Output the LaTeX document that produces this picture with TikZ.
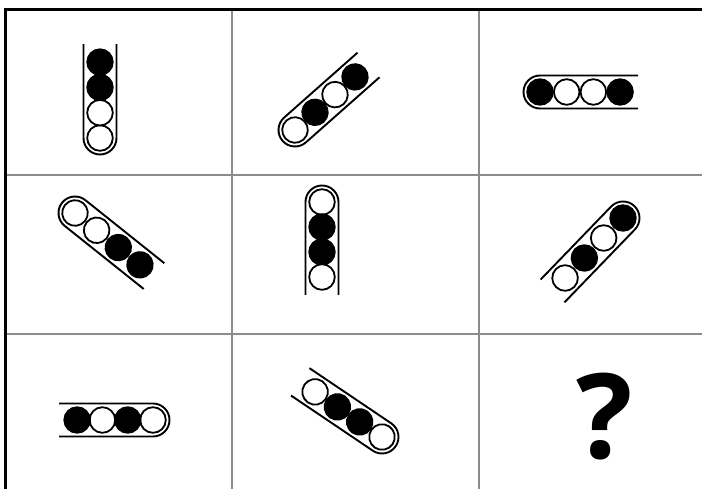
\documentclass[tikz,border=0pt]{standalone}
\usepackage{fontspec}
\newfontfamily\qfont{Open Sans}
\tikzset{
  tubeline/.style={line width=1.9pt, black},
  ball/.style={line width=1.8pt, draw=black},
  gridline/.style={line width=1.2pt, black!45},
  frameline/.style={line width=3pt, black}
}
\newcommand{\balltube}[8]{%
  \begin{scope}[shift={(#1,-#2)}, rotate=-#3]
    \pgfmathsetmacro\tsp{#4}
    \draw[tubeline] ({3*\tsp+18},16.5) -- (0,16.5) arc[start angle=90,end angle=270,radius=16.5] -- ({3*\tsp+18},-16.5);
    \draw[ball, fill=#5] (0,0) circle[radius=12.8];
    \draw[ball, fill=#6] ({\tsp},0) circle[radius=12.8];
    \draw[ball, fill=#7] ({2*\tsp},0) circle[radius=12.8];
    \draw[ball, fill=#8] ({3*\tsp},0) circle[radius=12.8];
  \end{scope}}
\begin{document}
\begin{tikzpicture}[x=1pt,y=1pt]
\useasboundingbox (0,0) rectangle (702,-489);
\fill[white] (0,0) rectangle (702,-489);
% grid
\draw[gridline] (232,-10) -- (232,-489);
\draw[gridline] (479,-10) -- (479,-489);
\draw[gridline] (5,-175) -- (702,-175);
\draw[gridline] (5,-334) -- (702,-334);
% frame
\draw[frameline] (5,-489) -- (5,-10) -- (702,-10);
% tubes
\balltube{100}{138}{-90}{25.3}{white}{white}{black}{black}
\balltube{295}{130}{-41.5}{26.7}{white}{black}{white}{black}
\balltube{540}{92}{0}{26.7}{black}{white}{white}{black}
\balltube{75}{213}{38.6}{27.7}{white}{white}{black}{black}
\balltube{322}{202}{90}{25}{white}{black}{black}{white}
\balltube{623}{218}{134}{27.8}{black}{white}{black}{white}
\balltube{153}{420}{180}{25.3}{white}{black}{white}{black}
\balltube{382}{437}{214}{26.9}{white}{black}{black}{white}
% question mark
\node[inner sep=0pt, font=\qfont\bfseries\fontsize{118}{118}\selectfont] (q) at (605,-417) {?};
\end{tikzpicture}
\end{document}
